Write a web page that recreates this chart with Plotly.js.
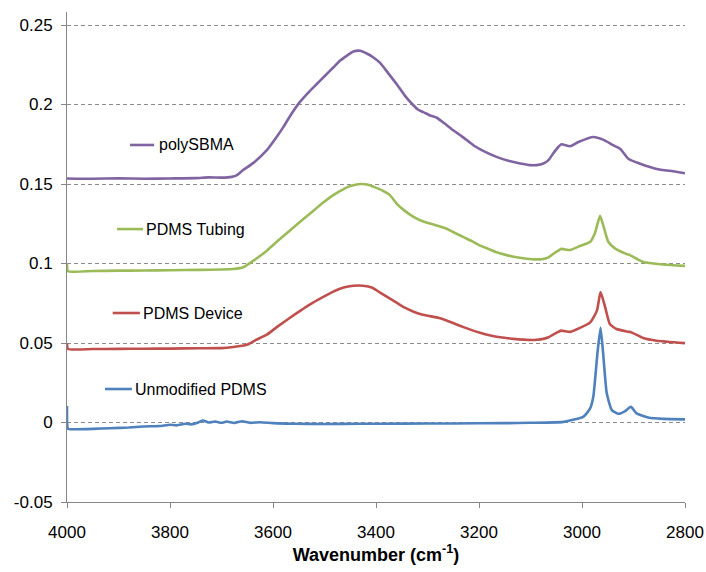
<!DOCTYPE html>
<html>
<head>
<meta charset="utf-8">
<script src="https://cdn.plot.ly/plotly-3.0.1.min.js"></script>
<style>html,body{margin:0;padding:0;background:#fff;}#chart{width:706px;height:572px;}</style>
</head>
<body>
<div id="chart"></div>
<script>
// polySBMA
const sbmaWn = [4000,3950,3900,3850,3800,3750,3725,3700,3680,3670,3658,3638,3612,3593,3580,3564,3548,3531,3515,3499,3483,3470,3457,3444,3431,3418,3405,3392,3376,3360,3344,3327,3318,3308,3295,3282,3266,3250,3230,3211,3188,3166,3143,3120,3101,3088,3075,3065,3056,3046,3040,3023,3007,2978,2959,2939,2926,2910,2887,2855,2823,2800];
const sbmaAbs = [0.1535,0.1533,0.1536,0.1533,0.1535,0.1537,0.1542,0.1540,0.1545,0.1556,0.1588,0.1633,0.1713,0.1796,0.1858,0.1942,0.2015,0.2077,0.2129,0.2181,0.2233,0.2275,0.2306,0.2333,0.2338,0.2321,0.2296,0.2262,0.2196,0.2129,0.2056,0.1994,0.1967,0.1952,0.1931,0.1917,0.1879,0.1838,0.1792,0.1744,0.1702,0.1671,0.1646,0.1629,0.1619,0.1619,0.1629,0.165,0.1692,0.1733,0.175,0.1738,0.1764,0.1796,0.1779,0.1743,0.1722,0.1659,0.1627,0.1595,0.158,0.1568];
// PDMS Tubing
const tubeWn = [4000,3998,3950,3900,3850,3800,3742,3700,3677,3658,3638,3612,3590,3567,3548,3528,3505,3483,3463,3450,3431,3415,3405,3389,3373,3360,3344,3327,3311,3295,3279,3263,3247,3230,3214,3198,3182,3166,3150,3133,3114,3094,3075,3065,3056,3046,3040,3023,3004,2984,2975,2965,2959,2949,2936,2913,2907,2881,2842,2800];
const tubeAbs = [0.1,0.0952,0.0953,0.0955,0.0956,0.0958,0.096,0.0962,0.0965,0.0976,0.1018,0.1081,0.1145,0.1208,0.1261,0.1314,0.1377,0.143,0.1468,0.1487,0.15,0.1496,0.1483,0.1462,0.143,0.1377,0.1331,0.1293,0.1267,0.1251,0.1236,0.1219,0.1193,0.1166,0.1141,0.1113,0.1092,0.1071,0.1056,0.1043,0.1033,0.1026,0.1029,0.1039,0.106,0.1081,0.1092,0.1085,0.111,0.1137,0.119,0.130,0.1243,0.1137,0.1095,0.1059,0.1053,0.101,0.0994,0.0985];
// PDMS Device
const devWn = [4000,3998,3950,3900,3850,3800,3742,3700,3677,3651,3632,3612,3590,3567,3548,3528,3505,3483,3463,3444,3425,3408,3392,3376,3360,3344,3327,3311,3295,3279,3263,3247,3230,3214,3198,3182,3166,3150,3133,3114,3094,3075,3065,3056,3046,3040,3023,3004,2984,2971,2964,2955,2946,2933,2910,2904,2881,2855,2800];
const devAbs = [0.05,0.0462,0.0462,0.0463,0.0464,0.0465,0.0467,0.0468,0.0475,0.0489,0.0521,0.0553,0.0606,0.0659,0.0701,0.0743,0.0785,0.0823,0.0849,0.086,0.086,0.0849,0.0817,0.0785,0.0754,0.0722,0.0697,0.068,0.0669,0.0659,0.0642,0.0621,0.06,0.0581,0.0564,0.055,0.0539,0.0533,0.0526,0.0521,0.0519,0.0526,0.0536,0.0553,0.057,0.0578,0.057,0.0595,0.063,0.0704,0.082,0.0725,0.062,0.0588,0.0571,0.0567,0.0531,0.0514,0.0499];
// Unmodified PDMS
const unmodWn = [4000,3998,3990,3950,3917,3880,3852,3820,3800,3787,3770,3760,3745,3736,3725,3712,3700,3690,3675,3660,3645,3625,3600,3561,3500,3431,3350,3250,3150,3101,3036,2997,2984,2978,2970,2964,2959,2952,2942,2929,2917,2905,2894,2870,2842,2800];
const unmodAbs = [0.0104,-0.004,-0.0042,-0.004,-0.0036,-0.0031,-0.0025,-0.0022,-0.0014,-0.0018,-0.0008,-0.0012,0.0,0.0013,0.0,0.0006,-0.0002,0.0006,-0.0003,0.0008,-0.0002,0.0002,-0.0004,-0.0008,-0.0009,-0.0008,-0.0007,-0.0006,-0.0004,-0.0002,0.0004,0.0037,0.009,0.0163,0.0436,0.0596,0.0436,0.0185,0.0078,0.0055,0.007,0.0099,0.0057,0.003,0.0023,0.002];

const seriesNames = ["polySBMA","PDMS Tubing","PDMS Device","Unmodified PDMS"];
const seriesColors = ["#8064A2","#9BBB59","#C0504D","#4F81BD"];
const yTicks = [-0.05,0,0.05,0.1,0.15,0.2,0.25];
const yTickText = ["-0.05","0","0.05","0.1","0.15","0.2","0.25"];
const xTicks = [4000,3800,3600,3400,3200,3000,2800];

const xs = [sbmaWn, tubeWn, devWn, unmodWn];
const ys = [sbmaAbs, tubeAbs, devAbs, unmodAbs];

const traces = xs.map((x,i)=>({
  x: x, y: ys[i], type:'scatter', mode:'lines', name: seriesNames[i],
  line:{color: seriesColors[i], width:2.6, shape:'spline', smoothing:0.5},
  showlegend:false, hoverinfo:'skip'
}));

const FONT = 'Liberation Sans, Arial, sans-serif';
// label positions (paper coords)
const lab = [
  {x0:0.102, x1:0.141, y:0.7286, tx:0.146},
  {x0:0.081, x1:0.123, y:0.557, tx:0.125},
  {x0:0.074, x1:0.118, y:0.3857, tx:0.120},
  {x0:0.0615, x1:0.105, y:0.2306, tx:0.106}
];
const shapes = lab.map((l,i)=>({type:'line', xref:'paper', yref:'paper', x0:l.x0, x1:l.x1, y0:l.y, y1:l.y, line:{color:seriesColors[i], width:2.6}}));
const annotations = lab.map((l,i)=>({xref:'paper', yref:'paper', x:l.tx, y:l.y, xanchor:'left', yanchor:'middle', text:seriesNames[i], showarrow:false, font:{family:FONT, size:16, color:'#000'}}));

const layout = {
  width:706, height:572,
  margin:{l:67, r:21, t:12, b:70},
  paper_bgcolor:'#fff', plot_bgcolor:'#fff',
  font:{family:FONT, size:17, color:'#000'},
  xaxis:{
    range:[4000,2800], tickvals:xTicks, ticktext:xTicks.map(String),
    showgrid:false, zeroline:false, showline:true, linecolor:'#868686', linewidth:1,
    ticks:'outside', ticklen:5, tickcolor:'#868686', ticklabelstandoff:10,
    tickfont:{size:17},
    title:{text:'<b>Wavenumber (cm<sup>-1</sup>)</b>', font:{size:18, family:FONT}, standoff:5}
  },
  yaxis:{
    range:[-0.05,0.2582], tickvals:yTicks, ticktext:yTickText,
    showgrid:true, gridcolor:'#8c8c8c', griddash:'4px,3px', gridwidth:1,
    zeroline:false, showline:true, linecolor:'#868686', linewidth:1,
    ticks:'outside', ticklen:5, tickcolor:'#868686', ticklabelstandoff:5,
    tickfont:{size:17}
  },
  shapes:shapes, annotations:annotations
};

Plotly.newPlot('chart', traces, layout, {staticPlot:true, displayModeBar:false});
</script>
</body>
</html>
